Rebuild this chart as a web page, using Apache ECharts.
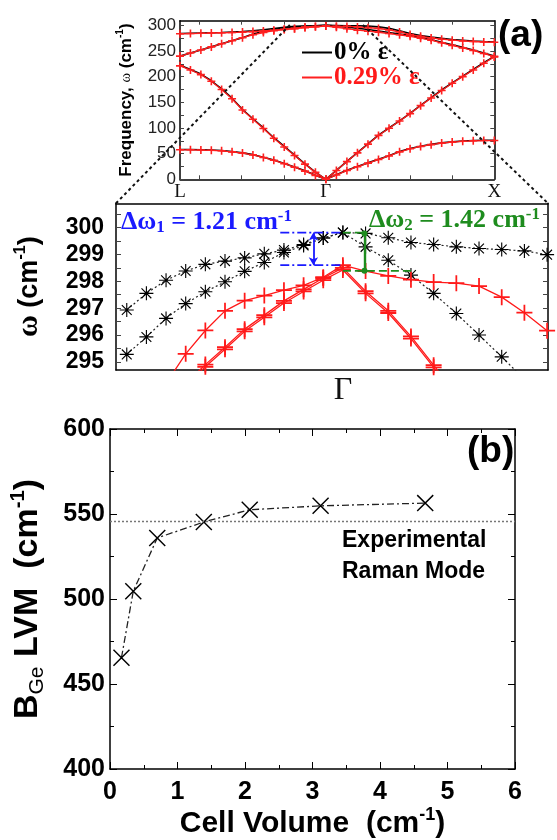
<!DOCTYPE html>
<html><head><meta charset="utf-8">
<script src="https://cdn.jsdelivr.net/npm/echarts@6/dist/echarts.min.js"></script>
<style>html,body{margin:0;padding:0;background:#fff}#c{width:557px;height:840px}</style>
</head><body><div id="c"></div>
<script>
// ---------- Panel (a) top: phonon dispersion L - Γ - X (Γ = 0, X = 1, L = -0.866) ----------
const topK = [-0.866,-0.804,-0.742,-0.680,-0.619,-0.557,-0.495,-0.433,-0.371,-0.309,-0.247,-0.186,-0.124,-0.062,0,
  0.0625,0.125,0.1875,0.25,0.3125,0.375,0.4375,0.5,0.5625,0.625,0.6875,0.75,0.8125,0.875,0.9375,1];
const topTicks = ['L','Γ','X'];
const topTickPos = [-0.866, 0, 1];
// 0% strain
const ta0 = [58,58,57.5,57,56,54,51.5,48,43,37.5,31,24,16.5,8,0, 9,17.5,25,32,39,46,54,60,64.5,68,71,73,74.5,75.5,76,76];
const la0 = [222,214,205,192,176,158,136,118,100,81,64,47,30,14,0, 17.5,35,52,69,86,100,114,128.5,144,159,174,188,201,214,227,239.5];
const to0 = [240,246,252,258,264,270,276,283,288,291.8,294.5,296.45,297.95,299.15,299.81, 299.57,299.26,299.12,298.5,297,294,289.5,284,280,277,274.5,272.5,271,269.5,268.5,268];
const lo0 = [284,284.5,285,285.5,286,287,288,289.5,291.5,293.8,296,297.9,298.7,299.15,299.81, 298.4,296.5,294.3,291.8,289,286,283,280,276,272,267,262,257,252,246,240];
// 0.29% strain
const ta29 = [57.5,57.5,57,56.5,55.5,53.5,51,47.5,42.5,37,30.5,23.5,16,7.5,0, 8.5,17,24.5,31.5,38.5,45.5,53.5,59.5,64,67.5,70.5,72.5,74,75,75.5,75.5];
const la29 = [221,213,204,191,175,157,135,117,99,80,63,46.5,29.5,13.5,0, 17,34.5,51.5,68.5,85.5,99.5,113.5,128,143.5,158.5,173,187,200,213,226,238.5];
const to29 = [240,246,252,258,264,270,275.8,281.5,286,289.5,291.8,293.5,295.4,297.25,298.5, 298.1,297.9,296.8,295.5,293.8,291,287,282,278.5,275.5,273,271,269.5,268.5,267.5,267];
const lo29 = [283.5,284,284.5,285,285.5,286,286.8,287.8,289,290.5,292.2,294,296.75,297.67,298.6, 296.25,293.4,290.5,288.5,286.5,284,281.5,278.7,275,271,266,261,256,251,245,239.5];
// zoom window of the top panel (Γ-X units) and level
const zoomWindow = [-0.214, 0.22];
const zoomWindowLevel = 300.5;

// ---------- Panel (a) bottom: zoom near Γ (k-point steps, Γ = 0) ----------
const zoomXRange = [-10, 9.04];
const zoomYRange = [294.7, 300.9];
const zoomYLabels = [295,296,297,298,299,300];
const zoomYTicks = [295,295.5,296,296.5,297,297.5,298,298.5,299,299.5,300,300.5];
const zoomLeftK = [-9.526,-8.66,-7.794,-6.928,-6.062,-5.196,-4.33,-3.464,-2.598,-1.732,-0.866,0];
const zoomRightK = [0,1,2,3,4,5,6,7,8,9];
const zBlackUpperL = [296.93,297.55,298.04,298.38,298.63,298.75,298.87,299.02,299.16,299.37,299.61,299.81];
const zBlackUpperR = [299.81,299.78,299.62,299.44,299.37,299.28,299.22,299.18,299.13,298.99];
const zBlackLowerL = [295.28,295.93,296.62,297.17,297.61,297.98,298.37,298.7,299.07,299.33,299.61,299.81];
const zBlackLowerR = [299.81,299.28,298.78,298.23,297.55,296.8,296.0,295.19,294.35];
const zRedSingleL = [294.2,295.3,296.17,296.9,297.28,297.47,297.67,297.85,298.15,298.6];
const zRedSingleR = [298.6,298.38,298.2,298.06,297.97,297.93,297.82,297.41,296.83,296.16];
const zRedDoubleAL = [294.2,294.9,295.55,296.22,296.74,297.27,297.7,298.12,298.5];
const zRedDoubleAR = [298.5,297.63,296.9,295.95,294.88,293.8];
const zRedDoubleBL = [294.12,294.82,295.47,296.14,296.66,297.19,297.62,298.04,298.42];
const zRedDoubleBR = [298.42,297.55,296.82,295.87,294.8,293.72];
// Δω annotations
const blueRefK = [-2.76, 0], blueLevels = [299.81, 298.6], blueArrowK = -1.3;
const greenTopK = [0, 1.0], greenBottomK = [0, 3.18], greenLevels = [299.81, 298.39], greenArrowK = 0.95;

// ---------- Panel (b) ----------
const cellVolume = [0.17,0.345,0.70,1.39,2.07,3.12,4.67];
const lvm = [465.5,504.6,535.9,545.3,552.5,554.8,556.4];
const experimentalRaman = 546;

// ---------- helpers ----------
const pairs = (xs, ys) => ys.map((y, i) => [xs[i], y]);
function joinLR(lk, lv, rk, rv) {
  const off = lk.length - lv.length;
  const out = lv.map((v, i) => [lk[off + i], v]);
  rv.forEach((v, i) => { if (i > 0) out.push([rk[i], v]); });
  return out;
}
const PLUS_S = 'path://M4,0L6,0L6,4L10,4L10,6L6,6L6,10L4,10L4,6L0,6L0,4L4,4Z';
const PLUS_L = 'path://M4.45,0L5.55,0L5.55,4.45L10,4.45L10,5.55L5.55,5.55L5.55,10L4.45,10L4.45,5.55L0,5.55L0,4.45L4.45,4.45Z';
const STAR = 'path://M9.2,0L10.8,0L10.8,20L9.2,20Z M0,9.2L20,9.2L20,10.8L0,10.8Z M3.57,2.43L17.57,16.43L16.43,17.57L2.43,3.57Z M16.43,2.43L17.57,3.57L3.57,17.57L2.43,16.43Z';
const XMARK = 'path://M1.57,0.43L19.57,18.43L18.43,19.57L0.43,1.57Z M18.43,0.43L19.57,1.57L1.57,19.57L0.43,18.43Z';
const SANS = 'Liberation Sans', SERIF = 'Liberation Serif';
const AL = {onZero:false, lineStyle:{color:'#000', width:1.5}};

const chart = echarts.init(document.getElementById('c'));

const series = [];
[ta0, la0, to0, lo0].forEach(b => {
  series.push({type:'line', name:'0% ε', xAxisIndex:0, yAxisIndex:0, data:pairs(topK, b), showSymbol:false,
    lineStyle:{color:'#000', width:1.6}, itemStyle:{color:'#000'}, z:2});
});
[ta29, la29, to29, lo29].forEach(r => {
  series.push({type:'line', name:'0.29% ε', xAxisIndex:0, yAxisIndex:0, data:pairs(topK, r), symbol:PLUS_S, symbolSize:8,
    lineStyle:{color:'#ff1a1a', width:1.3}, itemStyle:{color:'#ff2020'}, z:3});
});
// zoom panel
[[zBlackUpperL, zBlackUpperR],[zBlackLowerL, zBlackLowerR]].forEach(([l, r], i) => {
  series.push({type:'line', name:'zb'+i, xAxisIndex:1, yAxisIndex:1, data:joinLR(zoomLeftK, l, zoomRightK, r),
    symbol:STAR, symbolSize:14, lineStyle:{color:'#222', width:1.2, type:[2,2.5]}, itemStyle:{color:'#000'}, z:3});
});
[[zRedSingleL, zRedSingleR],[zRedDoubleAL, zRedDoubleAR],[zRedDoubleBL, zRedDoubleBR]].forEach(([l, r], i) => {
  series.push({type:'line', name:'zr'+i, xAxisIndex:1, yAxisIndex:1, data:joinLR(zoomLeftK, l, zoomRightK, r),
    symbol:PLUS_L, symbolSize:16, lineStyle:{color:'#ff1a1a', width:1.3}, itemStyle:{color:'#ff1a1a'}, z:3});
});
// annotation lines
const blue = '#1a1aff', green = '#1e8c1e';
series.push({type:'line', name:'blueTop', xAxisIndex:1, yAxisIndex:1, showSymbol:false, z:5,
  data:blueRefK.map(k => [k, blueLevels[0]]), lineStyle:{color:blue, width:1.6, type:[9,3,2,3]},
  markLine:{silent:true, symbol:['arrow','arrow'], symbolSize:[7,8], label:{show:false},
    lineStyle:{color:blue, width:1.8, type:'solid'},
    data:[[{coord:[blueArrowK, blueLevels[0]]},{coord:[blueArrowK, blueLevels[1]]}]]}});
series.push({type:'line', name:'blueBot', xAxisIndex:1, yAxisIndex:1, showSymbol:false, z:5,
  data:blueRefK.map(k => [k, blueLevels[1]]), lineStyle:{color:blue, width:1.6, type:[9,3,2,3]}});
series.push({type:'line', name:'greenTop', xAxisIndex:1, yAxisIndex:1, showSymbol:false, z:5,
  data:greenTopK.map(k => [k, greenLevels[0]]), lineStyle:{color:green, width:1.8, type:[8,4]},
  markLine:{silent:true, symbol:['circle','circle'], symbolSize:6, label:{show:false},
    lineStyle:{color:green, width:2.4, type:'solid'},
    data:[[{coord:[greenArrowK, greenLevels[0]-0.03]},{coord:[greenArrowK, greenLevels[1]]}]]}});
series.push({type:'line', name:'greenBot', xAxisIndex:1, yAxisIndex:1, showSymbol:false, z:5,
  data:greenBottomK.map(k => [k, greenLevels[1]]), lineStyle:{color:green, width:1.8, type:[8,4]}});
// panel (b)
series.push({type:'line', name:'lvm', xAxisIndex:2, yAxisIndex:2, data:pairs(cellVolume, lvm),
  symbol:XMARK, symbolSize:17, lineStyle:{color:'#222', width:1.3, type:[7,3,2,3]}, itemStyle:{color:'#000'},
  markLine:{silent:true, symbol:'none', label:{show:false}, lineStyle:{color:'#777', width:1.3, type:[2,2]},
    data:[{yAxis:experimentalRaman}]}});

const supRich = (size, color) => ({
  b:{fontFamily:SANS, fontWeight:'bold', fontSize:size, color:color, lineHeight:size+6},
  w:{fontFamily:SERIF, fontSize:size*0.85, color:color, lineHeight:size+6},
  s:{fontFamily:SANS, fontWeight:'bold', fontSize:size*0.6, color:color, lineHeight:size*0.6, verticalAlign:'top'},
  u:{fontFamily:SANS, fontSize:size*0.62, color:color, lineHeight:size*0.6, verticalAlign:'bottom'}
});

const option = {
  animation:false,
  backgroundColor:'#fff',
  legend:{data:[{name:'0% ε', textStyle:{color:'#000'}},{name:'0.29% ε', textStyle:{color:'#ff1a1a'}}],
    orient:'vertical', left:297, top:35, icon:'rect', itemWidth:30, itemHeight:2, itemGap:0, selectedMode:false,
    textStyle:{fontFamily:SERIF, fontWeight:'bold', fontSize:25, lineHeight:22, padding:[0,0,0,-3]}},
  grid:[
    {left:180, top:20.7, width:314.3, height:158.6, show:false},
    {left:116, top:203.3, width:432, height:166.7, show:false},
    {left:110, top:429, width:405, height:341, show:false}
  ],
  xAxis:[
    {gridIndex:0, type:'value', min:-0.866, max:1, position:'bottom', axisLine:AL, splitLine:{show:false},
      axisTick:{inside:true, length:4, lineStyle:{color:'#444'}, customValues:[-0.75,-0.5,-0.25,0,0.25,0.5,0.75]},
      axisLabel:{customValues:topTickPos, formatter:v => topTicks[topTickPos.indexOf(v)] || (v<0?'L':v>0?'X':'Γ'),
        fontFamily:SERIF, fontSize:19, color:'#111', margin:3}},
    {gridIndex:1, type:'value', min:zoomXRange[0], max:zoomXRange[1], position:'bottom', axisLine:AL, splitLine:{show:false},
      axisTick:{show:false}, axisLabel:{customValues:[0], formatter:() => 'Γ', fontFamily:SERIF, fontSize:32, color:'#111', margin:5}},
    {gridIndex:2, type:'value', min:0, max:6, interval:1, position:'bottom', axisLine:AL, splitLine:{show:false},
      axisTick:{inside:true, length:7, lineStyle:{color:'#000'}}, minorTick:{show:true, splitNumber:2, length:4, lineStyle:{color:'#000'}},
      axisLabel:{fontFamily:SANS, fontWeight:'bold', fontSize:25, color:'#000', margin:11},
      name:'{b|Cell Volume  (cm}{s|-1}{b|)}', nameLocation:'middle', nameGap:37,
      nameTextStyle:{rich:supRich(30,'#000')}},
    {gridIndex:0, type:'value', min:-0.866, max:1, position:'top', axisLine:AL, splitLine:{show:false},
      axisTick:{inside:true, length:4, lineStyle:{color:'#444'}, customValues:[-0.75,-0.5,-0.25,0,0.25,0.5,0.75]}, axisLabel:{show:false}},
    {gridIndex:1, type:'value', min:zoomXRange[0], max:zoomXRange[1], position:'top', axisLine:AL, splitLine:{show:false},
      axisTick:{show:false}, axisLabel:{show:false}},
    {gridIndex:2, type:'value', min:0, max:6, interval:1, position:'top', axisLine:AL, splitLine:{show:false},
      axisTick:{inside:true, length:7, lineStyle:{color:'#000'}}, minorTick:{show:true, splitNumber:2, length:4, lineStyle:{color:'#000'}},
      axisLabel:{show:false}}
  ],
  yAxis:[
    {gridIndex:0, type:'value', min:0, max:309, position:'left', axisLine:AL, splitLine:{show:false},
      axisTick:{inside:true, length:4, lineStyle:{color:'#444'}, customValues:[0,25,50,75,100,125,150,175,200,225,250,275,300]},
      axisLabel:{customValues:[0,50,100,150,200,250,300], fontFamily:SANS, fontSize:17, color:'#222', margin:4},
      name:'{b|Frequency, }{w|ω}{b| (cm}{s|-1}{b|)}', nameLocation:'middle', nameGap:42,
      nameTextStyle:{rich:supRich(17,'#000')}},
    {gridIndex:1, type:'value', min:zoomYRange[0], max:zoomYRange[1], position:'left', axisLine:AL, splitLine:{show:false},
      axisTick:{inside:true, length:5, lineStyle:{color:'#444'}, customValues:zoomYTicks},
      axisLabel:{customValues:zoomYLabels, fontFamily:SANS, fontWeight:'bold', fontSize:23, color:'#000', margin:12},
      name:'{w|ω}{b| (cm}{s|-1}{b|)}', nameLocation:'middle', nameGap:70,
      nameTextStyle:{rich:Object.assign(supRich(27,'#000'), {w:{fontFamily:SERIF, fontWeight:'bold', fontSize:30, color:'#000', lineHeight:33}})}},
    {gridIndex:2, type:'value', min:400, max:600, interval:50, position:'left', axisLine:AL, splitLine:{show:false},
      axisTick:{inside:true, length:7, lineStyle:{color:'#000'}}, minorTick:{show:true, splitNumber:2, length:4, lineStyle:{color:'#000'}},
      axisLabel:{fontFamily:SANS, fontWeight:'bold', fontSize:25, color:'#000', margin:5},
      name:'{b|B}{u|Ge}{b| LVM  (cm}{s|-1}{b|)}', nameLocation:'middle', nameGap:62,
      nameTextStyle:{rich:supRich(34,'#000')}},
    {gridIndex:0, type:'value', min:0, max:309, position:'right', axisLine:AL, splitLine:{show:false},
      axisTick:{inside:true, length:4, lineStyle:{color:'#444'}, customValues:[0,25,50,75,100,125,150,175,200,225,250,275,300]},
      axisLabel:{show:false}},
    {gridIndex:1, type:'value', min:zoomYRange[0], max:zoomYRange[1], position:'right', axisLine:AL, splitLine:{show:false},
      axisTick:{inside:true, length:5, lineStyle:{color:'#444'}, customValues:zoomYTicks}, axisLabel:{show:false}},
    {gridIndex:2, type:'value', min:400, max:600, interval:50, position:'right', axisLine:AL, splitLine:{show:false},
      axisTick:{inside:true, length:7, lineStyle:{color:'#000'}}, minorTick:{show:true, splitNumber:2, length:4, lineStyle:{color:'#000'}},
      axisLabel:{show:false}}
  ],
  series:series
};
chart.setOption(option);

// connectors from the zoom window in the top panel to the zoom panel corners
const a1 = chart.convertToPixel({xAxisIndex:0, yAxisIndex:0}, [zoomWindow[0], zoomWindowLevel]);
const a2 = chart.convertToPixel({xAxisIndex:0, yAxisIndex:0}, [zoomWindow[1], zoomWindowLevel]);
const b1 = chart.convertToPixel({xAxisIndex:1, yAxisIndex:1}, [zoomXRange[0], zoomYRange[1]]);
const b2 = chart.convertToPixel({xAxisIndex:1, yAxisIndex:1}, [zoomXRange[1], zoomYRange[1]]);

const deltaRich = color => ({
  a:{fontFamily:SERIF, fontWeight:'bold', fontSize:26, fill:color, lineHeight:28},
  s:{fontFamily:SERIF, fontWeight:'bold', fontSize:17, fill:color, lineHeight:12, verticalAlign:'bottom'},
  p:{fontFamily:SERIF, fontWeight:'bold', fontSize:17, fill:color, lineHeight:14, verticalAlign:'top'}
});

chart.setOption({graphic:[
  {type:'line', z:100, shape:{x1:a1[0], y1:a1[1], x2:b1[0], y2:b1[1]}, style:{stroke:'#111', lineWidth:2, lineDash:[3,3]}},
  {type:'line', z:100, shape:{x1:a2[0], y1:a2[1], x2:b2[0], y2:b2[1]}, style:{stroke:'#111', lineWidth:2, lineDash:[3,3]}},
  {type:'text', z:100, style:{x:498, y:36, text:'(a)', font:'bold 37px "Liberation Sans"', fill:'#000', textAlign:'left', textVerticalAlign:'middle'}},
  {type:'text', z:100, style:{x:467, y:452, text:'(b)', font:'bold 37px "Liberation Sans"', fill:'#000', textAlign:'left', textVerticalAlign:'middle'}},
  {type:'text', z:100, style:{x:121, y:222, text:'{a|Δω}{s|1}{a| = 1.21 cm}{p|-1}', rich:deltaRich(blue), textAlign:'left', textVerticalAlign:'middle'}},
  {type:'text', z:100, style:{x:369, y:220, text:'{a|Δω}{s|2}{a| = 1.42 cm}{p|-1}', rich:deltaRich(green), textAlign:'left', textVerticalAlign:'middle'}},
  {type:'text', z:100, style:{x:342, y:556, text:'Experimental\nRaman Mode', font:'bold 23px "Liberation Sans"', lineHeight:31.5, fill:'#000', textAlign:'left', textVerticalAlign:'middle'}}
]});
</script></body></html>
